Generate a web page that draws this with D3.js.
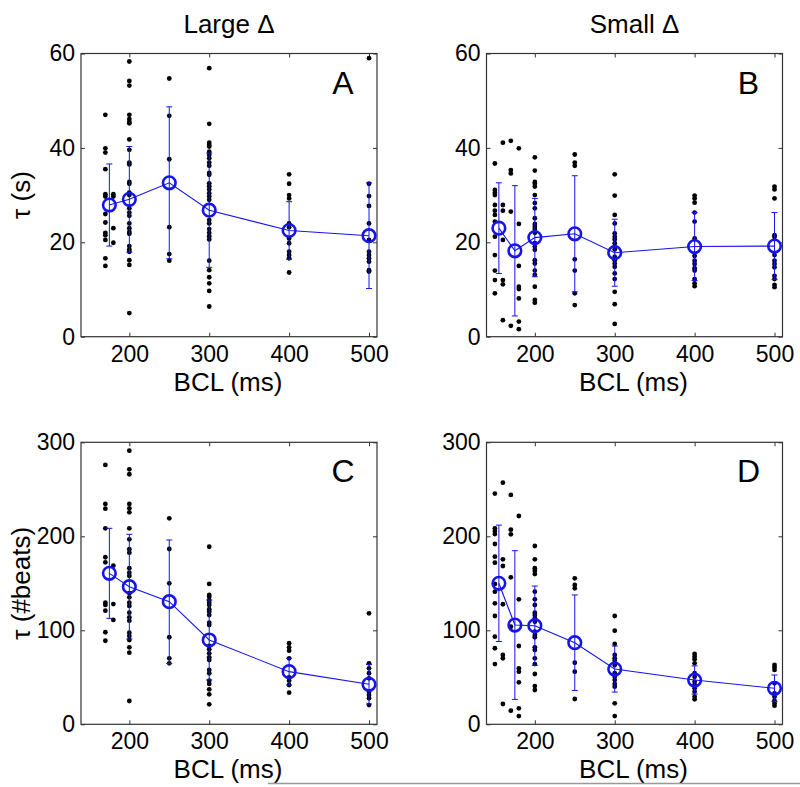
<!DOCTYPE html>
<html>
<head>
<meta charset="utf-8">
<script src="https://cdn.jsdelivr.net/npm/d3@7"></script>
<style>
  body { margin: 0; background: #fff; }
  text { font-family: "Liberation Sans", Arial, sans-serif; fill: #000; }
</style>
</head>
<body>
<script>
// BCL columns where single measurements sit
const dotBclA = [170, 180, 200, 250, 300, 400, 500];
const dotBclB = [150, 160, 170, 180, 200, 250, 300, 400, 500];

// tau (s), large delta
const dotsA = [
  [47.0, 39.9, 39.0, 35.5, 30.2, 29.7, 26.0, 24.2, 22.0, 21.5, 20.5, 16.6, 15.0],
  [30.2, 29.7, 23.0, 19.9],
  [58.3, 54.2, 53.2, 47.0, 46.1, 45.5, 45.2, 41.8, 39.6, 36.9, 36.5, 32.8, 32.4, 30.5, 30.0, 27.2, 26.3, 25.6, 24.0, 23.0, 22.2, 21.8, 19.2, 18.5, 18.0, 16.2, 15.2, 5.0],
  [54.7, 46.8, 37.6, 23.2, 17.5, 16.1],
  [56.9, 45.1, 41.1, 40.6, 40.3, 39.2, 38.5, 37.8, 36.9, 36.2, 34.7, 34.3, 32.5, 31.9, 31.2, 30.4, 29.7, 29.0, 24.7, 24.0, 22.8, 22.0, 21.3, 20.6, 16.1, 14.1, 12.6, 11.3, 9.7, 6.4],
  [34.4, 32.4, 30.0, 29.3, 24.0, 23.2, 20.8, 19.8, 18.0, 17.3, 16.6, 13.6],
  [59.0, 32.4, 29.8, 27.7, 24.0, 20.5, 18.0, 17.3, 16.6, 15.9, 14.1, 13.8]
];
// tau (s), small delta
const dotsB = [
  [36.7, 31.1, 30.5, 30.0, 27.9, 26.7, 25.8, 24.4, 21.2, 17.3, 14.0, 12.0, 9.2],
  [41.1, 27.9, 26.7, 20.5, 12.0, 11.1, 3.5],
  [41.5, 35.3, 34.6, 26.5, 2.3],
  [39.9, 23.9, 15.0, 10.6, 10.1, 8.1, 3.2, 1.6],
  [38.0, 35.2, 32.8, 32.4, 31.8, 30.0, 28.3, 27.2, 25.1, 23.9, 23.3, 22.8, 22.0, 19.8, 19.1, 18.4, 16.2, 15.5, 14.0, 13.1, 10.6, 7.8, 7.2],
  [38.6, 36.9, 36.2, 16.4, 14.0, 9.2, 6.7],
  [34.4, 29.9, 25.8, 24.0, 21.9, 21.2, 20.6, 19.8, 19.1, 18.5, 16.9, 16.2, 15.5, 14.8, 13.4, 12.2, 9.5, 6.9, 2.7],
  [29.9, 29.3, 28.4, 26.3, 24.4, 20.8, 17.1, 16.1, 15.4, 14.5, 14.0, 12.2, 11.3, 10.7],
  [31.8, 31.2, 29.3, 21.5, 21.1, 17.3, 16.1, 15.4, 14.7, 12.9, 12.2, 11.0, 10.5]
];
// tau (#beats), large delta
const dotsC = [
  [275.9, 234.4, 229.4, 208.5, 177.7, 172.3, 129.4, 127.0, 120.9, 97.9, 88.9],
  [168.7, 127.9, 111.0],
  [291.1, 271.3, 266.0, 234.4, 229.8, 225.5, 208.5, 196.8, 186.2, 182.6, 166.0, 161.3, 157.8, 139.4, 135.1, 129.4, 125.9, 118.7, 113.8, 110.2, 97.4, 93.9, 89.7, 81.9, 76.2, 24.8],
  [219.1, 186.5, 150.0, 92.6, 70.2, 64.9],
  [188.9, 149.3, 137.6, 135.8, 132.2, 129.4, 127.0, 122.4, 119.9, 116.3, 108.1, 105.6, 83.3, 79.8, 75.5, 71.3, 68.4, 57.8, 54.3, 46.4, 42.9, 37.2, 31.9, 21.3],
  [86.2, 81.9, 78.3, 70.2, 50.0, 46.4, 41.8, 33.6],
  [118.1, 64.9, 59.6, 54.3, 48.9, 34.7, 31.2, 27.7, 20.5]
];
// tau (#beats), small delta
const dotsD = [
  [245.4, 208.5, 205.6, 202.4, 191.8, 178.3, 171.9, 149.3, 141.1, 128.7, 115.2, 93.2, 80.9, 64.1],
  [257.0, 175.5, 168.4, 127.7, 73.7, 70.2, 21.6],
  [244.0, 207.1, 202.1, 156.4, 103.8, 14.5],
  [221.6, 133.0, 83.3, 59.6, 56.0, 44.7, 17.0, 8.8],
  [189.7, 175.5, 166.0, 163.4, 159.9, 141.1, 133.0, 126.9, 118.7, 116.3, 112.8, 109.1, 98.5, 95.0, 92.6, 81.9, 79.0, 70.2, 64.1, 53.5, 40.7, 36.5],
  [155.3, 148.2, 144.7, 65.5, 56.0, 26.9],
  [115.2, 99.6, 85.4, 73.7, 70.2, 67.7, 63.1, 54.3, 50.6, 47.1, 42.9, 40.0, 22.3, 8.8],
  [74.8, 71.9, 69.1, 64.9, 54.3, 50.6, 45.3, 41.8, 38.3, 34.7, 29.4, 26.6],
  [63.1, 60.6, 57.8, 43.6, 33.0, 29.4, 25.1, 22.3, 19.8]
];

// means and standard deviations
const meanBclA = [175, 200, 250, 300, 400, 500];
const meanBclB = [155, 175, 200, 250, 300, 400, 500];
const meanA = [27.9, 29.1, 32.6, 26.8, 22.5, 21.4];
const sdA = [8.7, 11.2, 16.1, 12.1, 6.1, 11.2];
const meanB = [23.0, 18.2, 21.0, 21.8, 17.8, 19.1, 19.2];
const sdB = [9.6, 13.8, 8.3, 12.3, 7.1, 7.2, 7.1];
const meanC = [160.6, 146.4, 130.4, 89.7, 56.0, 42.6];
const sdC = [47.9, 55.7, 65.7, 42.5, 14.2, 21.0];
const meanD = [150.0, 105.6, 104.9, 86.8, 58.8, 47.1, 38.3];
const sdD = [61.9, 79.1, 42.2, 50.8, 24.5, 15.0, 14.1];

const xTicks = [200, 300, 400, 500];
const yTicksS = [0, 20, 40, 60];
const yTicksBeats = [0, 100, 200, 300];
const colTitles = ["Large \u0394", "Small \u0394"];

const blue = "#1414f0";
const svg = d3.select("body").append("svg")
    .attr("width", 800).attr("height", 787);

function panel(p) {
    const w = 296;
    const x = d3.scaleLinear().domain([139.5, 510]).range([p.left, p.left + w]);
    const y = d3.scaleLinear().domain(p.yDomain).range([p.bottom, p.top]);
    const g = svg.append("g");

    // axes with inward ticks
    const bottom = g.append("g").attr("transform", `translate(0,${p.bottom})`)
        .call(d3.axisBottom(x).tickValues(xTicks).tickSizeInner(-4).tickSizeOuter(0).tickPadding(7));
    const topAx = g.append("g").attr("transform", `translate(0,${p.top})`)
        .call(d3.axisTop(x).tickValues(xTicks).tickSizeInner(-4).tickSizeOuter(0).tickFormat(""));
    const left = g.append("g").attr("transform", `translate(${p.left},0)`)
        .call(d3.axisLeft(y).tickValues(p.yTicks).tickSizeInner(-4).tickSizeOuter(0).tickPadding(6));
    const right = g.append("g").attr("transform", `translate(${p.left + w},0)`)
        .call(d3.axisRight(y).tickValues(p.yTicks).tickSizeInner(-4).tickSizeOuter(0).tickFormat(""));
    [bottom, topAx, left, right].forEach(a => {
        a.select(".domain").remove();
        a.selectAll("line").attr("stroke", "#333");
        a.selectAll("text").style("font-size", "23px")
            .style("font-family", '"Liberation Sans", Arial, sans-serif').attr("fill", "#000");
    });
    bottom.selectAll("text").attr("dy", "0.78em");
    g.append("rect")
        .attr("x", p.left).attr("y", p.top)
        .attr("width", w).attr("height", p.bottom - p.top)
        .attr("fill", "none").attr("stroke", "#333").attr("stroke-width", 1.2);

    // individual measurements
    const pts = [];
    p.dots.forEach((col, i) => col.forEach(v => pts.push([p.dotBcl[i], v])));
    g.append("g").selectAll("circle").data(pts).enter().append("circle")
        .attr("cx", d => x(d[0])).attr("cy", d => y(d[1]))
        .attr("r", 2.4).attr("fill", "#000");

    // error bars
    const eb = g.append("g").attr("stroke", blue).attr("stroke-width", 1);
    p.meanBcl.forEach((b, i) => {
        const lo = y(p.mean[i] - p.sd[i]), hi = y(p.mean[i] + p.sd[i]), cx = x(b);
        eb.append("line").attr("x1", cx).attr("x2", cx).attr("y1", lo).attr("y2", hi);
        eb.append("line").attr("x1", cx - 3).attr("x2", cx + 3).attr("y1", lo).attr("y2", lo);
        eb.append("line").attr("x1", cx - 3).attr("x2", cx + 3).attr("y1", hi).attr("y2", hi);
    });

    const line = d3.line().x((d, i) => x(p.meanBcl[i])).y(d => y(d));
    g.append("path").datum(p.mean).attr("d", line)
        .attr("fill", "none").attr("stroke", blue).attr("stroke-width", 1.1);
    g.append("g").selectAll("circle").data(p.mean).enter().append("circle")
        .attr("cx", (d, i) => x(p.meanBcl[i])).attr("cy", d => y(d))
        .attr("r", 6.3).attr("fill", "none").attr("stroke", blue).attr("stroke-width", 2.6);

    // letter
    g.append("text").attr("x", p.left + 262).attr("y", p.top + 40)
        .attr("text-anchor", "middle").style("font-size", "32px").text(p.letter);

    // axis titles
    g.append("text").attr("x", p.left + w / 2 - 1).attr("y", p.bottom + 54)
        .attr("text-anchor", "middle").style("font-size", "26px").text("BCL (ms)");
    if (p.yLabel) {
        g.append("text")
            .attr("transform", `translate(${p.left - 51},${(p.top + p.bottom) / 2}) rotate(-90)`)
            .attr("text-anchor", "middle").style("font-size", "26px").text(p.yLabel);
    }
    if (p.title) {
        g.append("text").attr("x", p.left + w / 2).attr("y", 33)
            .attr("text-anchor", "middle").style("font-size", "26px").text(p.title);
    }
}

panel({ left: 81, top: 53.5, bottom: 336.7, yDomain: [0, 60], yTicks: yTicksS,
        dotBcl: dotBclA, dots: dotsA, meanBcl: meanBclA, mean: meanA, sd: sdA,
        letter: "A", yLabel: "\u03c4 (s)", title: colTitles[0] });
panel({ left: 486.5, top: 53.5, bottom: 336.7, yDomain: [0, 60], yTicks: yTicksS,
        dotBcl: dotBclB, dots: dotsB, meanBcl: meanBclB, mean: meanB, sd: sdB,
        letter: "B", title: colTitles[1] });
panel({ left: 81, top: 442.3, bottom: 724.3, yDomain: [0, 300], yTicks: yTicksBeats,
        dotBcl: dotBclA, dots: dotsC, meanBcl: meanBclA, mean: meanC, sd: sdC,
        letter: "C", yLabel: "\u03c4 (#beats)" });
panel({ left: 486.5, top: 442.3, bottom: 724.3, yDomain: [0, 300], yTicks: yTicksBeats,
        dotBcl: dotBclB, dots: dotsD, meanBcl: meanBclB, mean: meanD, sd: sdD,
        letter: "D" });

// stray rule at the foot of the figure
svg.append("line").attr("x1", 268).attr("x2", 800).attr("y1", 783.5).attr("y2", 783.5)
    .attr("stroke", "#9a9a9a").attr("stroke-width", 1.5);
</script>
</body>
</html>
